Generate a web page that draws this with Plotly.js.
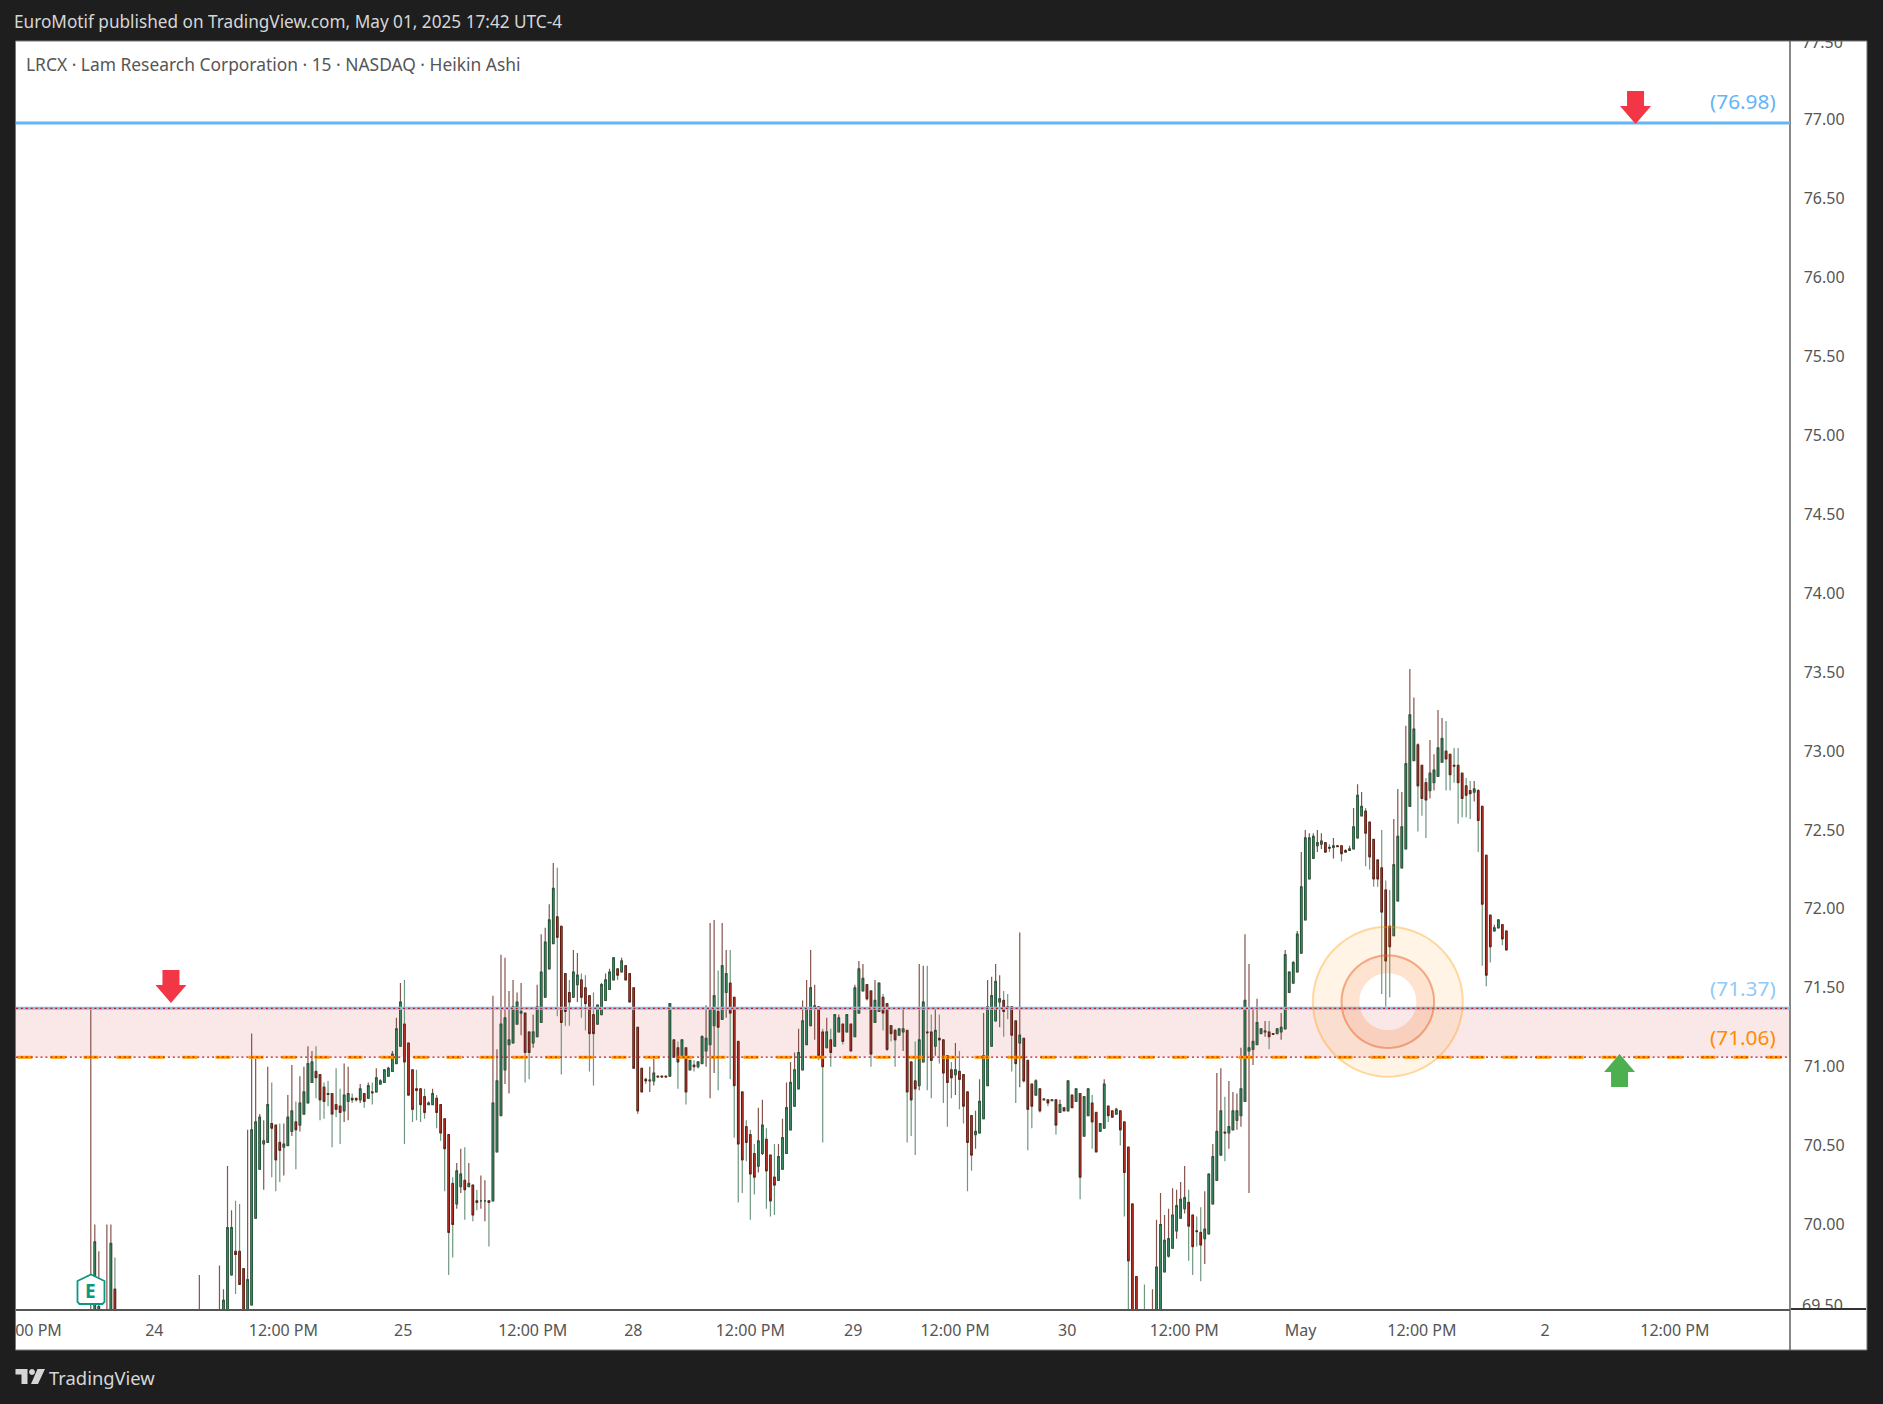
<!DOCTYPE html>
<html><head><meta charset="utf-8">
<script src="https://cdn.plot.ly/plotly-3.0.1.min.js"></script>
<style>
html,body{margin:0;padding:0;background:#1e1e1e;overflow:hidden}
#chart{position:absolute;left:0;top:0;width:1883px;height:1404px}
#head{position:absolute;left:0;top:0;width:1883px;height:40px;background:#1e1e1e;color:#d6d6d6;font:17.2px "Noto Sans",sans-serif;line-height:44px;text-indent:14px;white-space:nowrap}
#strip{position:absolute;left:1791px;top:1308px;width:75px;height:41px;background:#fff;border-top:2px solid #333;box-sizing:border-box}
</style></head><body>
<div id="chart"></div>
<div id="head">EuroMotif published on TradingView.com, May 01, 2025 17:42 UTC-4</div>
<div id="strip"></div>
<script>
// Bars that sit almost entirely below the visible window, then the continuous run
const earlyBars=[0,1,2,4,5,6,27];
const earlyOpen=[69.2,69.3,69.3,69.2,69.3,69.59,69.2];
const earlyHigh=[71.36,70.0,69.83,70.0,70.0,69.79,69.68];
const earlyLow=[69.1,69.2,69.2,69.1,69.2,69.2,69.1];
const earlyClose=[69.4,69.89,69.48,69.4,69.88,69.3,69.4];
const firstRunBar=32;
const open=[
69.20,69.30,69.30,69.68,69.83,69.83,69.72,69.30,69.49,70.04,
70.35,70.51,70.52,70.64,70.63,70.52,70.49,70.50,70.59,70.65,
70.63,70.70,70.77,70.90,70.97,70.95,70.87,70.83,70.83,70.76,
70.75,70.72,70.78,70.80,70.80,70.79,70.83,70.80,70.84,70.84,
70.89,70.90,70.94,70.97,71.02,71.13,71.27,71.15,70.98,70.86,
70.86,70.81,70.76,70.76,70.80,70.76,70.67,70.57,70.26,70.13,
70.24,70.28,70.24,70.25,70.15,70.15,70.15,70.15,70.15,70.46,
70.69,70.98,71.14,71.15,71.27,71.34,71.34,71.22,71.15,71.19,
71.28,71.44,71.62,71.78,71.95,71.89,71.59,71.47,71.44,71.52,
71.55,71.50,71.45,71.33,71.27,71.33,71.42,71.49,71.55,71.62,
71.60,71.64,71.59,71.50,71.25,70.99,70.92,70.91,70.91,70.94,
70.94,70.94,70.94,71.17,71.12,71.07,71.12,70.98,71.01,71.00,
71.02,71.10,71.14,71.26,71.35,71.30,71.47,71.53,71.44,71.16,
70.84,70.62,70.57,70.45,70.37,70.45,70.54,70.44,70.30,70.28,
70.35,70.45,70.60,70.75,70.86,70.98,71.14,71.26,71.38,71.38,
71.22,71.12,71.17,71.13,71.22,71.27,71.22,71.27,71.19,71.34,
71.48,71.52,71.48,71.28,71.35,71.44,71.40,71.26,71.23,71.20,
71.22,71.23,71.03,70.91,70.88,71.03,71.22,71.22,71.13,71.18,
71.17,71.07,70.98,70.95,70.97,70.95,70.84,70.69,70.57,70.58,
70.67,70.88,71.13,71.29,71.41,71.42,71.38,71.38,71.29,71.15,
71.18,71.04,70.89,70.82,70.86,70.79,70.79,70.785,70.79,70.71,
70.74,70.72,70.82,70.78,70.83,70.56,70.69,70.77,70.71,70.59,
70.61,70.75,70.72,70.70,70.72,70.65,70.49,70.13,69.67,69.30,
69.40,69.20,69.20,69.30,69.30,69.70,69.80,69.85,69.96,70.04,
70.10,70.14,70.06,69.96,69.95,69.91,69.94,70.13,70.28,70.44,
70.585,70.58,70.60,70.66,70.69,70.78,71.10,71.11,71.14,71.21,
71.22,71.22,71.21,71.21,71.22,71.24,71.47,71.53,71.60,71.72,
71.93,72.19,72.32,72.40,72.41,72.42,72.39,72.39,72.40,72.40,
72.37,72.37,72.38,72.45,72.59,72.62,72.55,72.44,72.31,72.26,
72.12,71.89,71.83,72.05,72.26,72.38,72.65,72.94,73.04,72.91,
72.80,72.75,72.80,72.84,72.93,73.00,72.98,72.91,72.91,72.86,
72.78,72.75,72.74,72.75,72.65,72.34,71.96,71.86,71.88,71.90,71.86];
const high=[
69.74,69.59,70.37,70.09,70.15,70.13,69.72,70.60,71.21,71.05,
70.70,70.66,71.00,70.90,70.63,70.64,70.64,70.82,71.01,70.78,
70.94,71.00,71.13,71.10,71.13,70.95,70.90,70.91,70.83,70.99,
70.86,71.02,71.00,70.83,70.80,70.89,70.83,70.90,70.90,70.99,
70.92,70.98,71.00,71.10,71.31,71.53,71.55,71.15,70.98,70.98,
70.86,70.86,70.78,70.86,70.82,70.76,70.67,70.57,70.30,70.39,
70.48,70.49,70.39,70.25,70.22,70.31,70.28,70.15,71.45,71.11,
71.71,71.69,71.48,71.55,71.47,71.53,71.34,71.22,71.33,71.52,
71.84,71.88,72.03,72.29,72.26,71.89,71.59,71.55,71.74,71.72,
71.59,71.58,71.45,71.47,71.39,71.53,71.59,71.62,71.69,71.62,
71.69,71.64,71.59,71.50,71.25,70.99,70.93,71.00,71.05,70.94,
70.94,70.94,71.40,71.17,71.16,71.17,71.12,71.04,71.04,71.03,
71.20,71.39,71.91,71.93,71.61,71.91,71.74,71.74,71.44,71.16,
70.84,70.66,70.60,70.51,70.74,70.79,70.61,70.44,70.51,70.51,
70.67,70.90,71.03,71.09,71.24,71.42,71.55,71.74,71.52,71.38,
71.24,71.31,71.24,71.33,71.33,71.27,71.33,71.27,71.52,71.67,
71.65,71.52,71.48,71.55,71.53,71.46,71.40,71.26,71.24,71.24,
71.38,71.23,71.03,71.16,71.65,71.64,71.64,71.33,71.37,71.33,
71.17,71.07,71.03,71.15,71.10,70.95,70.84,70.69,70.72,70.92,
71.34,71.55,71.57,71.65,71.58,71.48,71.46,71.38,71.29,71.85,
71.18,71.04,70.89,70.92,70.86,70.795,70.79,70.79,70.79,70.79,
70.74,70.91,70.82,70.86,70.83,70.81,70.86,70.82,70.71,70.64,
70.92,70.75,70.72,70.74,70.72,70.65,70.49,70.13,69.67,69.40,
69.62,69.40,69.59,70.03,70.20,70.06,70.10,70.23,70.22,70.27,
70.37,70.22,70.06,70.05,70.11,70.21,70.32,70.51,70.96,70.99,
70.81,70.91,70.84,70.83,71.12,71.84,71.65,71.37,71.43,71.24,
71.29,71.29,71.21,71.24,71.34,71.74,71.60,71.67,71.86,72.36,
72.50,72.48,72.48,72.50,72.48,72.42,72.41,72.45,72.40,72.40,
72.38,72.40,72.64,72.79,72.74,72.64,72.55,72.44,72.31,72.50,
72.18,72.12,72.57,72.76,72.74,73.16,73.52,73.34,73.05,72.91,
72.83,73.07,72.98,73.26,73.21,73.19,72.98,73.02,73.02,72.86,
72.83,72.81,72.81,72.76,72.65,72.34,71.96,71.90,71.93,71.90,71.86];
const low=[
69.10,69.20,69.20,69.68,69.56,69.62,69.20,69.20,69.49,70.04,
70.35,70.22,70.52,70.30,70.21,70.27,70.31,70.50,70.56,70.35,
70.59,70.70,70.77,70.90,70.80,70.66,70.67,70.75,70.49,70.68,
70.51,70.65,70.66,70.77,70.78,70.77,70.74,70.80,70.76,70.84,
70.89,70.90,70.94,70.97,71.02,71.13,70.51,70.82,70.65,70.66,
70.65,70.67,70.76,70.76,70.61,70.53,70.21,69.68,69.79,70.10,
70.20,70.03,70.24,70.02,70.09,70.10,70.02,69.86,70.15,70.46,
70.69,70.89,70.83,71.15,71.27,71.20,70.90,70.92,71.12,71.19,
71.28,71.44,71.62,71.78,71.32,70.95,71.26,71.26,71.44,71.41,
71.31,71.23,70.97,70.88,71.27,71.33,71.42,71.49,71.55,71.55,
71.60,71.55,71.41,70.99,70.70,70.84,70.89,70.84,70.88,70.94,
70.94,70.94,70.94,71.06,70.86,71.07,70.76,70.98,70.97,70.99,
71.02,71.00,70.80,70.96,70.85,71.30,71.31,70.92,70.55,70.14,
70.20,70.40,70.03,70.19,70.33,70.44,70.10,70.05,70.06,70.28,
70.35,70.45,70.60,70.75,70.86,70.98,71.14,71.26,71.17,71.04,
70.52,71.12,71.00,71.13,71.22,71.14,71.22,71.10,71.19,71.34,
71.48,71.42,71.00,71.28,71.35,71.23,71.10,71.16,71.00,71.20,
71.10,70.52,70.56,70.44,70.85,71.03,70.85,70.80,71.07,71.02,
70.77,70.62,70.80,70.82,70.73,70.64,70.21,70.34,70.48,70.58,
70.67,70.88,71.13,71.29,71.25,71.19,71.30,70.97,70.77,70.87,
70.90,70.47,70.61,70.82,70.71,70.79,70.75,70.785,70.57,70.71,
70.72,70.72,70.74,70.78,70.16,70.56,70.69,70.48,70.46,70.59,
70.61,70.65,70.68,70.70,70.50,70.05,69.30,69.20,69.20,69.20,
69.20,69.10,69.10,69.20,69.20,69.70,69.79,69.85,69.91,70.04,
70.07,69.77,69.68,69.86,69.64,69.75,69.94,70.13,70.28,70.44,
70.40,70.48,70.60,70.60,70.62,70.78,70.20,71.01,71.14,71.21,
71.19,71.11,71.21,71.21,71.17,71.24,71.47,71.53,71.60,71.72,
71.93,72.19,72.32,72.36,72.38,72.36,72.36,72.32,72.40,72.30,
72.36,72.37,72.38,72.45,72.59,72.27,72.25,72.14,72.14,71.46,
71.38,71.44,71.83,72.05,72.26,72.38,72.65,72.94,72.49,72.59,
72.45,72.70,72.75,72.84,72.93,72.75,72.75,72.80,72.54,72.58,
72.58,72.57,72.68,72.36,71.64,71.51,71.66,71.86,71.88,71.77,71.74];
const close=[
69.40,69.52,69.98,69.98,69.81,69.62,69.30,69.65,70.60,70.65,
70.68,70.53,70.76,70.61,70.41,70.47,70.51,70.68,70.72,70.60,
70.77,70.84,71.02,71.03,70.93,70.79,70.78,70.825,70.70,70.73,
70.71,70.82,70.83,70.79,70.79,70.86,70.78,70.88,70.835,70.93,
70.91,70.98,70.99,71.08,71.24,71.41,71.03,70.82,70.73,70.85,
70.76,70.71,70.77,70.83,70.71,70.58,70.48,69.95,70.00,70.34,
70.32,70.22,70.26,70.06,70.14,70.15,70.15,70.14,70.77,70.91,
71.27,71.31,71.17,71.38,71.41,71.35,71.09,71.09,71.22,71.38,
71.60,71.79,71.93,72.13,71.82,71.28,71.35,71.41,71.60,71.58,
71.44,71.40,71.21,71.21,71.39,71.52,71.55,71.60,71.69,71.58,
71.67,71.55,71.41,70.99,70.72,70.84,70.91,70.915,70.96,70.935,
70.935,70.935,71.40,71.06,71.03,71.17,70.84,71.04,71.00,71.03,
71.19,71.18,71.37,71.45,71.25,71.64,71.59,71.34,70.88,70.51,
70.41,70.52,70.32,70.30,70.53,70.63,70.34,70.15,70.25,70.43,
70.55,70.74,70.90,70.98,71.09,71.29,71.37,71.50,71.385,71.07,
71.00,71.22,71.09,71.33,71.31,71.16,71.33,71.10,71.50,71.62,
71.56,71.43,71.08,71.42,71.53,71.34,71.11,71.21,71.17,71.24,
71.24,70.84,70.79,70.86,71.17,71.41,71.215,71.04,71.23,71.17,
70.96,70.90,70.93,70.98,70.92,70.75,70.52,70.44,70.59,70.78,
71.07,71.38,71.45,71.54,71.43,71.35,71.375,71.20,71.02,71.20,
70.91,70.73,70.75,70.91,70.72,70.795,70.77,70.79,70.63,70.76,
70.72,70.91,70.74,70.86,70.30,70.81,70.86,70.65,70.46,70.64,
70.89,70.69,70.68,70.73,70.60,70.33,69.77,69.30,69.30,69.25,
69.30,69.30,69.40,69.73,70.00,69.90,69.91,70.06,70.12,70.16,
70.17,69.99,69.86,69.955,69.87,69.97,70.32,70.43,70.59,70.72,
70.58,70.62,70.72,70.72,70.86,71.42,71.12,71.16,71.28,71.24,
71.225,71.19,71.205,71.24,71.25,71.71,71.60,71.66,71.84,72.14,
72.45,72.45,72.46,72.42,72.43,72.36,72.385,72.40,72.395,72.35,
72.36,72.38,72.52,72.72,72.65,72.48,72.33,72.19,72.19,71.98,
71.67,71.76,72.28,72.46,72.52,72.92,73.23,73.14,72.78,72.70,
72.69,72.86,72.88,73.02,73.08,72.95,72.85,72.905,72.80,72.70,
72.72,72.73,72.76,72.56,72.03,71.58,71.76,71.88,71.93,71.81,71.74];

const priceTicks=[70,70.5,71,71.5,72,72.5,73,73.5,74,74.5,75,75.5,76,76.5,77];
const clippedPriceTicks=[77.5,69.5];
const timeTickBars=[-13,15.8,47.9,77.7,109.9,134.9,164,189.6,214.9,242.8,271.9,300.8,331,361.6,393.9];
const timeTickText=["00 PM","24","12:00 PM","25","12:00 PM","28","12:00 PM","29","12:00 PM","30","12:00 PM","May","12:00 PM","2","12:00 PM"];
const upperTarget=76.98, zoneTop=71.37, zoneBottom=71.06;
const levelLabels=["(76.98)","(71.37)","(71.06)"];

const FONT='"Noto Sans",sans-serif';
const W=1883,H=1404,L=15.5,R=1790,T=41,B=1309;
const X=p=>(p-L)/(R-L), Y=p=>1-(p-T)/(B-T);

const runBars=open.map((_,i)=>firstRunBar+i);
const bars=earlyBars.concat(runBars);
const o=earlyOpen.concat(open), h=earlyHigh.concat(high), l=earlyLow.concat(low), c=earlyClose.concat(close);
const bodyHi=o.map((v,i)=>Math.max(v,c[i])), bodyLo=o.map((v,i)=>Math.min(v,c[i]));
const lastBar=bars[bars.length-1];
const spacing=(1506.3-90.3)/lastBar;

const wicks={type:'candlestick',x:bars,open:o,high:h,low:l,close:c,whiskerwidth:0,hoverinfo:'skip',showlegend:false,
  increasing:{line:{color:'#85544d',width:1.2},fillcolor:'rgba(0,0,0,0)'},
  decreasing:{line:{color:'#6f9781',width:1.2},fillcolor:'rgba(0,0,0,0)'}};
const bodies={type:'candlestick',x:bars,open:o,high:bodyHi,low:bodyLo,close:c,whiskerwidth:0,hoverinfo:'skip',showlegend:false,
  increasing:{line:{color:'#1d5a3d',width:1},fillcolor:'#4fa37a'},
  decreasing:{line:{color:'#651a13',width:1},fillcolor:'#df3e2d'}};

function circle(cx,cy,r){let s='';for(let i=0;i<72;i++){const a=i/72*2*Math.PI;s+=(i?'L':'M')+X(cx+r*Math.cos(a)).toFixed(6)+','+Y(cy+r*Math.sin(a)).toFixed(6)+' ';}return s+'Z ';}
function poly(pts){return pts.map((p,i)=>(i?'L':'M')+X(p[0]).toFixed(6)+','+Y(p[1]).toFixed(6)).join(' ')+' Z';}
const pp={xref:'paper',yref:'paper',type:'path'};
const cx=1387.7,cy=1001.7;
const shapes=[
 {type:'rect',xref:'paper',yref:'paper',x0:X(15),x1:X(1867),y0:Y(1350),y1:Y(41),fillcolor:'#fff',line:{color:'#7a7a7a',width:1},layer:'below'},
 {type:'rect',xref:'paper',yref:'y',x0:X(L),x1:1,y0:zoneBottom,y1:zoneTop,fillcolor:'#fae8e8',line:{width:0},layer:'below'},
 {type:'line',xref:'paper',yref:'paper',x0:1,x1:1,y0:Y(1350),y1:1,line:{color:'#555',width:1.4},layer:'above'},
 {type:'line',xref:'paper',yref:'y',x0:0,x1:1,y0:upperTarget,y1:upperTarget,line:{color:'#64b5f6',width:3},layer:'above'},
 {type:'line',xref:'paper',yref:'y',x0:0,x1:1,y0:zoneTop,y1:zoneTop,line:{color:'#8fbfe8',width:3},layer:'above'},
 {type:'line',xref:'paper',yref:'y',x0:0,x1:1,y0:zoneTop,y1:zoneTop,line:{color:'#c8141e',width:1.2,dash:'2px,2.9px'},layer:'above'},
 {type:'line',xref:'paper',yref:'y',x0:X(17),x1:X(1782),y0:zoneBottom,y1:zoneBottom,line:{color:'#ff9800',width:3,dash:'15px,18px'},layer:'above'},
 {type:'line',xref:'paper',yref:'y',x0:0,x1:1,y0:zoneBottom,y1:zoneBottom,line:{color:'#c8141e',width:1.2,dash:'2px,2.9px'},layer:'above'},
 Object.assign({},pp,{path:circle(cx,cy,75)+circle(cx,cy,28.5),fillcolor:'rgba(255,152,0,0.1)',fillrule:'evenodd',line:{width:0},layer:'above'}),
 Object.assign({},pp,{path:circle(cx,cy,46.3)+circle(cx,cy,28.5),fillcolor:'rgba(235,80,30,0.1)',fillrule:'evenodd',line:{width:0},layer:'above'}),
 Object.assign({},pp,{path:circle(cx,cy,75),fillcolor:'rgba(0,0,0,0)',line:{color:'rgba(255,152,0,0.35)',width:2},layer:'above'}),
 Object.assign({},pp,{path:circle(cx,cy,46.3),fillcolor:'rgba(0,0,0,0)',line:{color:'rgba(232,100,40,0.5)',width:2},layer:'above'}),
 Object.assign({},pp,{path:poly([[162,970],[179,970],[179,985],[186,985],[170.5,1003],[155,985],[162,985]]),fillcolor:'#f23645',line:{width:0},layer:'above'}),
 Object.assign({},pp,{path:poly([[1627,91],[1644,91],[1644,106],[1651,106],[1635.5,124],[1620,106],[1627,106]]),fillcolor:'#f23645',line:{width:0},layer:'above'}),
 Object.assign({},pp,{path:poly([[1611,1087],[1628,1087],[1628,1072],[1635,1072],[1619.5,1054],[1604,1072],[1611,1072]]),fillcolor:'#4caf50',line:{width:0},layer:'above'}),
 Object.assign({},pp,{path:poly([[90.5,1274.5],[104,1281],[104,1302],[102,1304],[79,1304],[77,1302],[77,1281]]),fillcolor:'#fff',line:{color:'#089981',width:1.8},layer:'above'}),
 Object.assign({},pp,{path:poly([[15,1369],[27,1369],[27,1384],[21,1384],[21,1374.5],[15,1374.5]]),fillcolor:'#d6d6d6',line:{width:0},layer:'above'}),
 Object.assign({},pp,{path:circle(31.5,1372,2.9),fillcolor:'#d6d6d6',line:{width:0},layer:'above'}),
 Object.assign({},pp,{path:poly([[37,1369],[44.5,1369],[37.5,1384],[30.5,1384]]),fillcolor:'#d6d6d6',line:{width:0},layer:'above'})
];
function ann(text,px,py,size,color,anchor,extra){return Object.assign({xref:'paper',yref:'paper',x:X(px),y:Y(py),text:text,showarrow:false,xanchor:anchor||'left',yanchor:'middle',font:{family:FONT,size:size,color:color},borderpad:0,borderwidth:0},extra||{});}
const annotations=[
 ann('LRCX · Lam Research Corporation · 15 · NASDAQ · Heikin Ashi',26,64,17.4,'#565656'),
 ann(levelLabels[0],1776,101,20.8,'#64b5f6','right'),
 ann(levelLabels[1],1776,988,20.8,'#90caf9','right'),
 ann(levelLabels[2],1776,1037,20.8,'#ff8c00','right'),
 ann('E',90.5,1291,19,'#089981','center',{font:{family:FONT,size:19,color:'#089981',weight:700}}),
 ann('TradingView',49,1377,18.4,'#d6d6d6'),
 ann(clippedPriceTicks[0].toFixed(2),1802.5,42,16,'#555'),
 ann(clippedPriceTicks[1].toFixed(2),1802.5,1305,16,'#555')
];
const pxPerUnit=157.8, bandPx=1008.3;
const priceAt=p=>zoneTop+(bandPx-p)/pxPerUnit;
const layout={width:W,height:H,paper_bgcolor:'#1e1e1e',plot_bgcolor:'rgba(0,0,0,0)',showlegend:false,
 margin:{l:L,r:W-R,t:T,b:H-B,pad:0},dragmode:false,boxgap:0.45,
 xaxis:{type:'linear',range:[(L-90.3)/spacing,(R-90.3)/spacing],rangeslider:{visible:false},showgrid:false,zeroline:false,
   showline:true,linecolor:'#555',linewidth:1.5,tickmode:'array',tickvals:timeTickBars,ticktext:timeTickText,ticks:'',ticklabelstandoff:6,
   tickfont:{family:FONT,size:16,color:'#555'},fixedrange:true},
 yaxis:{side:'right',range:[priceAt(B),priceAt(T)],showgrid:false,zeroline:false,showline:false,tickmode:'array',
   tickvals:priceTicks,ticktext:priceTicks.map(v=>v.toFixed(2)),ticks:'outside',ticklen:9.5,tickwidth:1,tickcolor:'rgba(0,0,0,0)',ticklabelshift:2.2,
   tickfont:{family:FONT,size:16,color:'#555'},fixedrange:true},
 shapes:shapes,annotations:annotations};
Plotly.newPlot('chart',[wicks,bodies],layout,{staticPlot:true,displayModeBar:false});
</script></body></html>
